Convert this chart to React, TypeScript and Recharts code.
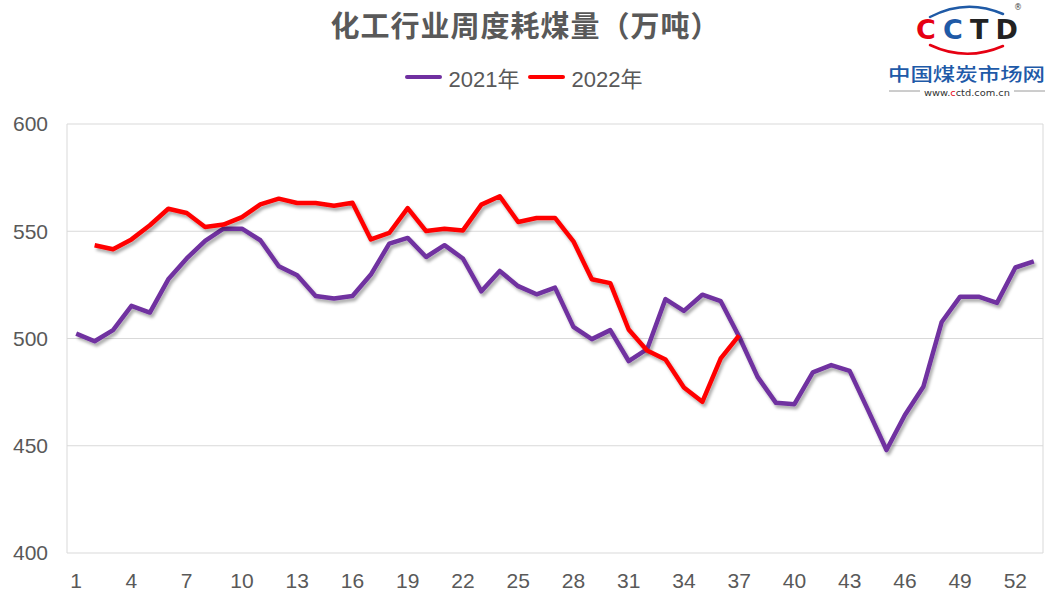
import React from 'react';
import { LineChart, Line, XAxis, YAxis, CartesianGrid, Legend } from 'recharts';

const weeks = [
  1, 2, 3, 4, 5, 6, 7, 8, 9, 10, 11, 12, 13, 14, 15, 16, 17, 18, 19, 20, 21, 22, 23, 24, 25, 26, 27,
  28, 29, 30, 31, 32, 33, 34, 35, 36, 37, 38, 39, 40, 41, 42, 43, 44, 45, 46, 47, 48, 49, 50, 51, 52, 53,
];

const values2021 = [
  502.3, 498.7, 503.9, 515.2, 512.1, 527.6, 537.3, 545.5, 551.2, 551.2, 545.8, 533.7, 529.5, 519.8,
  518.6, 519.8, 529.8, 544.2, 546.9, 538.0, 543.5, 537.3, 522.0, 531.5, 524.4, 520.6, 523.7, 505.4,
  499.7, 503.9, 489.5, 495.0, 518.4, 512.9, 520.4, 517.4, 500.8, 482.1, 470.0, 469.4, 484.2, 487.6,
  484.9, 466.6, 448.0, 464.3, 477.5, 507.7, 519.5, 519.5, 516.6, 533.1, 536.0,
];

// week 1 has no 2022 value; series runs from week 2 to week 37
const values2022 = [
  null, 543.5, 541.6, 546.2, 552.8, 560.5, 558.5, 552.0, 553.1, 556.6, 562.5, 565.2, 563.2, 563.2,
  561.9, 563.3, 546.2, 549.2, 560.8, 550.1, 551.2, 550.4, 562.4, 566.3, 554.3, 556.2, 556.2, 545.3,
  527.6, 525.8, 504.2, 494.4, 490.2, 477.2, 470.5, 490.7, 501.5,
];

const xTickLabels = [1, 4, 7, 10, 13, 16, 19, 22, 25, 28, 31, 34, 37, 40, 43, 46, 49, 52];
const gridBoundaries = [0.5, 3.5, 6.5, 9.5, 12.5, 15.5, 18.5, 21.5, 24.5, 27.5, 30.5, 33.5, 36.5, 39.5, 42.5, 45.5, 48.5, 51.5];
const yTicks = [400, 450, 500, 550, 600];

const seriesNames = { y2021: '2021年', y2022: '2022年' };
const title = '化工行业周度耗煤量（万吨）';

const data = weeks.map((w, i) => ({
  week: w,
  y2021: values2021[i],
  y2022: values2022[i] ?? null,
}));

const TEXT = '#595959';
const GRID = '#d9d9d9';

const LegendContent = (props: any) => {
  const payload = props.payload || [];
  return (
    <div style={{ display: 'flex', justifyContent: 'center', alignItems: 'center', height: 26, paddingLeft: 4 }}>
      {payload.map((p: any) => (
        <div key={p.value} style={{ display: 'flex', alignItems: 'center', marginRight: 8 }}>
          <div style={{ width: 37, height: 4, borderRadius: 2, background: p.color, marginRight: 7 }} />
          <span style={{ fontFamily: '"Liberation Sans", "Noto Sans CJK SC", sans-serif', fontSize: 22, color: TEXT }}>
            {p.value}
          </span>
        </div>
      ))}
    </div>
  );
};

const Logo = () => (
  <svg width={1051} height={110} style={{ position: 'absolute', left: 0, top: 0, pointerEvents: 'none' }}>
    <path d="M 930 17 Q 966 -2 1003 14" fill="none" stroke="#1f5aa6" strokeWidth={2.5} strokeLinecap="round" />
    <path d="M 930 45 Q 966 62 1003 46" fill="none" stroke="#e60012" strokeWidth={2.5} strokeLinecap="round" />
    <text x={916} y={38.5} textLength={102} lengthAdjust="spacing" fontFamily='"DejaVu Sans", sans-serif' fontWeight={700} fontSize={27}>
      <tspan fill="#e60012">C</tspan>
      <tspan fill="#1f5aa6">C</tspan>
      <tspan fill="#222">TD</tspan>
    </text>
    <text x={1014} y={10} fontFamily='"DejaVu Sans", sans-serif' fontSize={8} fill="#444">®</text>
    <text x={888} y={81} textLength={157} lengthAdjust="spacingAndGlyphs" fontFamily='"Noto Sans CJK SC", sans-serif' fontSize={18} fontWeight={500} fill="#1e5aa8">
      中国煤炭市场网
    </text>
    <line x1={889} y1={91} x2={920} y2={91} stroke="#9a9a9a" strokeWidth={1} />
    <line x1={1014} y1={91} x2={1045} y2={91} stroke="#9a9a9a" strokeWidth={1} />
    <text x={924} y={95.5} textLength={86} lengthAdjust="spacingAndGlyphs" fontFamily='"DejaVu Sans", sans-serif' fontSize={9} fill="#333">
      www.<tspan fill="#e60012">c</tspan>ctd.com.cn
    </text>
  </svg>
);

export default function App() {
  return (
    <div style={{ position: 'absolute', left: 0, top: 0, width: 1051, height: 598, background: '#fff' }}>
      <style>{'.recharts-line-curve{filter:url(#lineShadow);}'}</style>
      <svg width={0} height={0} style={{ position: 'absolute' }}>
        <defs>
          <filter id="lineShadow" x="-5%" y="-10%" width="110%" height="130%">
            <feDropShadow dx={2} dy={3} stdDeviation={1.8} floodColor="#000" floodOpacity={0.32} />
          </filter>
        </defs>
      </svg>
      <div
        style={{
          position: 'absolute',
          left: 0,
          top: 5,
          width: 1051,
          height: 38,
          lineHeight: '38px',
          textAlign: 'center',
          fontFamily: '"Noto Sans CJK SC", sans-serif',
          fontWeight: 700,
          fontSize: 29,
          letterSpacing: 1,
          color: TEXT,
        }}
      >
        {title}
      </div>
      <LineChart width={1051} height={598} data={data} margin={{ top: 124, right: 8, bottom: 5, left: 7 }}>
        <CartesianGrid xAxisId="g" stroke={GRID} strokeWidth={1} />
        <XAxis
          xAxisId="g"
          dataKey="week"
          type="number"
          domain={[0.5, 53.5]}
          ticks={gridBoundaries}
          tick={false}
          tickLine={{ stroke: GRID }}
          tickSize={8}
          axisLine={false}
          height={0}
        />
        <XAxis
          xAxisId="lab"
          dataKey="week"
          type="number"
          domain={[0.5, 53.5]}
          ticks={xTickLabels}
          interval={0}
          axisLine={false}
          tickLine={false}
          tickSize={0}
          tickMargin={20}
          height={40}
          tick={{ fill: TEXT, fontSize: 21, fontFamily: '"Liberation Sans", sans-serif' }}
        />
        <YAxis
          domain={[400, 600]}
          ticks={yTicks}
          width={60}
          axisLine={false}
          tickLine={false}
          tickSize={0}
          tickMargin={19}
          tick={{ fill: TEXT, fontSize: 21, fontFamily: '"Liberation Sans", sans-serif' }}
        />
        <Legend
          verticalAlign="middle"
          layout="horizontal"
          align="center"
          content={<LegendContent />}
          wrapperStyle={{ top: 64, left: 0, width: 1051 }}
        />
        <Line
          xAxisId="lab"
          type="linear"
          dataKey="y2021"
          name={seriesNames.y2021}
          stroke="#7030a0"
          strokeWidth={4.5}
          strokeLinejoin="round"
          dot={false}
          isAnimationActive={false}
        />
        <Line
          xAxisId="lab"
          type="linear"
          dataKey="y2022"
          name={seriesNames.y2022}
          stroke="#ff0000"
          strokeWidth={4.5}
          strokeLinejoin="round"
          dot={false}
          isAnimationActive={false}
        />
      </LineChart>
      <Logo />
    </div>
  );
}
